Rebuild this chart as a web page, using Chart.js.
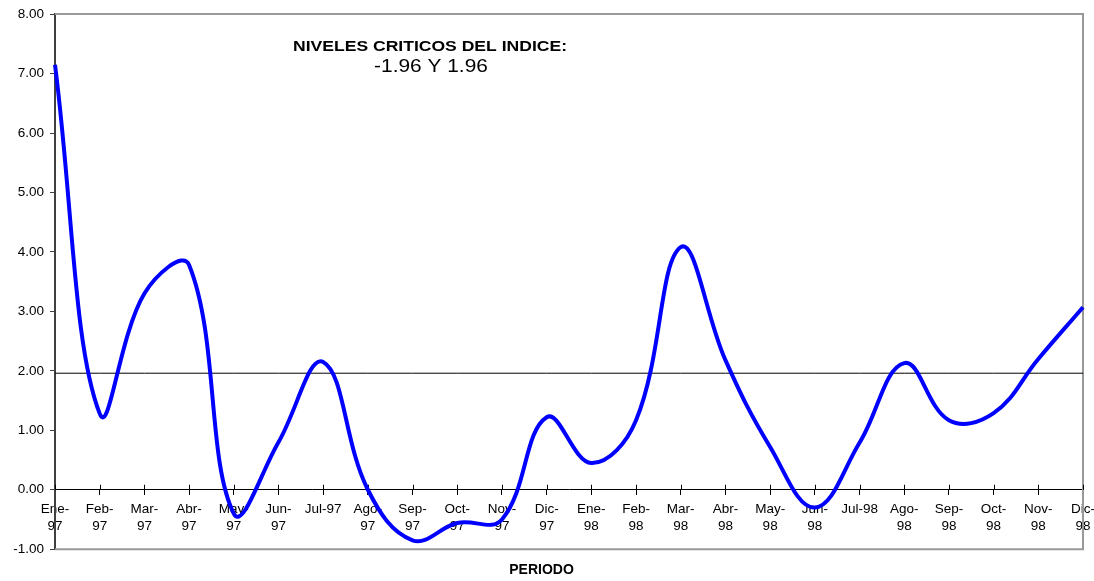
<!DOCTYPE html>
<html>
<head>
<meta charset="utf-8">
<script src="https://cdn.jsdelivr.net/npm/chart.js@4"></script>
<style>
html,body{margin:0;padding:0;background:#fff;}
#wrap{width:1094px;height:581px;}
</style>
</head>
<body>
<div id="wrap"><canvas id="c" width="1094" height="581"></canvas></div>
<script>
const categories = [
  ["Ene-","97"],["Feb-","97"],["Mar-","97"],["Abr-","97"],["May-","97"],["Jun-","97"],
  "Jul-97",["Ago-","97"],["Sep-","97"],["Oct-","97"],["Nov-","97"],["Dic-","97"],
  ["Ene-","98"],["Feb-","98"],["Mar-","98"],["Abr-","98"],["May-","98"],["Jun-","98"],
  "Jul-98",["Ago-","98"],["Sep-","98"],["Oct-","98"],["Nov-","98"],["Dic-","98"]
];
const indice = [7.15, 1.28, 3.30, 3.78, -0.40, 0.80, 2.15, 0.00, -0.85, -0.56, -0.50, 1.22,
                0.45, 1.17, 4.08, 2.18, 0.72, -0.30, 0.79, 2.13, 1.17, 1.29, 2.20, 3.07];
const nivelCritico = 1.96;
const criticoSerie = categories.map(() => nivelCritico);
const titleLine1 = "NIVELES CRITICOS DEL INDICE:";
const titleLine2 = "-1.96 Y 1.96";
const xTitle = "PERIODO";

const FONT = "'Liberation Sans', Arial, sans-serif";

function stretchedText(ctx, text, cx, baseline, font, sx) {
  ctx.save();
  ctx.font = font;
  ctx.translate(cx, baseline);
  ctx.scale(sx, 1);
  ctx.textAlign = 'center';
  ctx.textBaseline = 'alphabetic';
  ctx.fillStyle = '#000';
  ctx.fillText(text, 0, 0);
  ctx.restore();
}

const decor = {
  id: 'decor',
  beforeDatasetsDraw(chart) {
    const {ctx, chartArea: a} = chart;
    ctx.save();
    ctx.strokeStyle = '#999999';
    ctx.lineWidth = 2;
    ctx.beginPath();
    ctx.moveTo(a.left, a.top); ctx.lineTo(a.right, a.top);
    ctx.lineTo(a.right, a.bottom); ctx.lineTo(a.left, a.bottom);
    ctx.stroke();
    const xs = chart.scales.x, ys = chart.scales.y;
    const y0 = ys.getPixelForValue(0);
    ctx.strokeStyle = '#000';
    ctx.lineWidth = 1;
    ctx.beginPath();
    for (let i = 0; i < categories.length; i++) {
      const px = Math.round(xs.getPixelForValue(i)) + 0.5;
      ctx.moveTo(px, y0 - 5); ctx.lineTo(px, y0);
    }
    ctx.stroke();
    ctx.restore();
  },
  afterDraw(chart) {
    const {ctx} = chart;
    stretchedText(ctx, titleLine1, 430, 51, "bold 15px " + FONT, 1.17);
    stretchedText(ctx, titleLine2, 431, 72, "18px " + FONT, 1.16);
  }
};

new Chart(document.getElementById('c'), {
  type: 'line',
  data: {
    labels: categories,
    datasets: [
      {
        data: indice,
        borderColor: '#0000FF',
        borderWidth: 4,
        pointRadius: 0,
        tension: 0.4,
        fill: false
      },
      {
        data: criticoSerie,
        borderColor: '#000000',
        borderWidth: 1,
        pointRadius: 0,
        tension: 0,
        fill: false
      }
    ]
  },
  options: {
    responsive: false,
    animation: false,
    devicePixelRatio: 1,
    layout: {padding: {top: 13, right: 11, left: 0, bottom: 0}},
    plugins: {
      legend: {display: false},
      tooltip: {enabled: false},
      title: {
        display: true,
        position: 'bottom',
        text: xTitle,
        color: '#000',
        font: {family: FONT, size: 14, weight: 'bold'},
        padding: {top: 13, bottom: 2}
      }
    },
    scales: {
      x: {
        type: 'category',
        position: {y: 0},
        offset: false,
        grid: {display: true, drawOnChartArea: false, drawTicks: true, tickLength: 5, color: '#000'},
        border: {display: true, color: '#000', width: 1},
        ticks: {
          color: '#000',
          font: {family: FONT, size: 13.5, lineHeight: 1.19},
          maxRotation: 0, minRotation: 0, autoSkip: false, padding: 7
        },
        afterFit(scale) { scale.height = 0; scale.paddingLeft = 0; scale.paddingRight = 0; }
      },
      y: {
        min: -1, max: 8,
        ticks: {
          stepSize: 1,
          color: '#000',
          font: {family: FONT, size: 13.5},
          padding: 6,
          callback: (v) => Number(v).toFixed(2)
        },
        grid: {display: true, drawOnChartArea: false, drawTicks: true, tickLength: 5, color: '#404040'},
        border: {display: true, color: '#404040', width: 2},
        afterFit(scale) { scale.width = 55; }
      }
    }
  },
  plugins: [decor]
});
</script>
</body>
</html>
